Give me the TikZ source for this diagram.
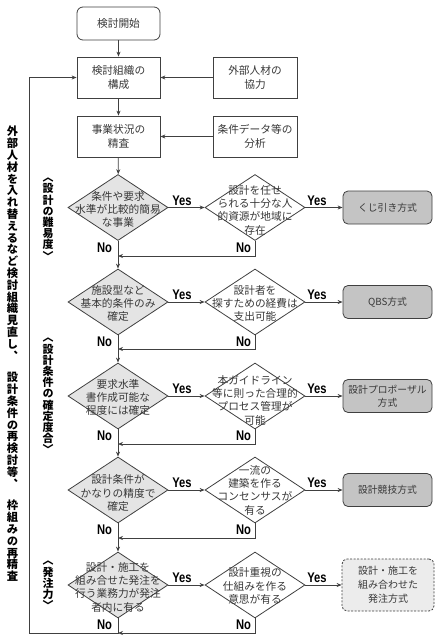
\documentclass[tikz,border=0pt]{standalone}
\usepackage{fontspec}
\setmainfont{Noto Sans CJK JP}
\newfontfamily\vjp[RawFeature=+vert]{Noto Sans CJK JP}
\newfontfamily\ynfont[FakeStretch=0.8]{Liberation Sans}
\usetikzlibrary{shapes.geometric,arrows.meta}
\definecolor{ln}{HTML}{404040}
\definecolor{tx}{HTML}{383838}
\definecolor{dfill}{HTML}{E4E4E4}
\definecolor{rfill}{HTML}{C4C4C4}
\definecolor{efill}{HTML}{ECECEC}
\begin{document}
\begin{tikzpicture}[x=1pt,y=-1pt,
  line/.style={draw=ln,line width=0.8pt},
  arr/.style={line,-{Stealth[length=5pt,width=4pt]}},
  box/.style={draw=ln,line width=0.8pt,fill=white,minimum width=83pt,minimum height=41pt,inner sep=0pt,align=center,text=tx,font=\fontsize{10.7}{13.5}\selectfont},
  startbox/.style={box,rounded corners=6pt,minimum height=33pt},
  dia/.style={diamond,draw=ln,line width=0.8pt,fill=white,minimum width=100pt,minimum height=66pt,inner sep=0pt},
  diag/.style={dia,fill=dfill},
  dtext/.style={align=center,text=tx,font=\fontsize{10.7}{13.3}\selectfont,inner sep=0pt},
  res/.style={draw=ln,line width=0.8pt,fill=rfill,rounded corners=5pt,minimum width=89pt,minimum height=33pt,inner sep=0pt,align=center,text=tx,font=\fontsize{9.8}{13}\selectfont},
  resd/.style={res,fill=efill,dash pattern=on 2pt off 1.5pt,minimum width=92pt,minimum height=52pt,font=\fontsize{10}{14}\selectfont},
  yn/.style={font=\ynfont\bfseries\fontsize{14}{14}\selectfont,text=black,inner sep=0pt},
  vtext/.style={align=center,font=\vjp\bfseries\fontsize{11.3}{11.8}\selectfont,inner sep=0pt,text=black},
  vlab/.style={align=center,font=\vjp\bfseries\fontsize{11}{11.2}\selectfont,inner sep=0pt,text=black},
]
\fill[white] (0,0) rectangle (441,640);
\useasboundingbox (0,0) rectangle (441,640);

% top boxes
\node[startbox] (start) at (118.5,23.5) {検討開始};
\node[box] (org) at (118.5,77.5) {検討組織の\\構成};
\node[box,minimum width=84pt] (ext) at (255,77.5) {外部人材の\\協力};
\node[box] (sit) at (118.5,136.5) {事業状況の\\精査};
\node[box,minimum width=84pt] (data) at (255,136.5) {条件データ等の\\分析};

% row 1
\node[diag] (d1) at (118,207.5) {};
\node[dtext] (t1) at (118,209.5) {条件や要求\\水準が比較的簡易\\な事業};
\node[dia] (d2) at (255,207.5) {};
\node[dtext] (t2) at (255,210) {設計を任せ\\られる十分な人\\的資源が地域に\\存在};
\node[res] (r1) at (387.5,207.5) {くじ引き方式};

% row 2
\node[diag] (d3) at (118,302) {};
\node[dtext] (t3) at (118,303.5) {施設型など\\基本的条件のみ\\確定};
\node[dia] (d4) at (255,302) {};
\node[dtext] (t4) at (255,303.5) {設計者を\\探すための経費は\\支出可能};
\node[res] (r2) at (387.5,302) {QBS方式};

% row 3
\node[diag] (d5) at (118,396) {};
\node[dtext] (t5) at (118,397.5) {要求水準\\書作成可能な\\程度には確定};
\node[dia] (d6) at (255,396) {};
\node[dtext] (t6) at (255,400) {本ガイドライン\\等に則った合理的\\プロセス管理が\\可能};
\node[res] (r3) at (387.5,396) {設計プロポーザル\\方式};

% row 4
\node[diag] (d7) at (118,490) {};
\node[dtext] (t7) at (118,493) {設計条件が\\かなりの精度で\\確定};
\node[dia] (d8) at (255,490) {};
\node[dtext] (t8) at (255,490) {一流の\\建築を作る\\コンセンサスが\\有る};
\node[res] (r4) at (387.5,490) {設計競技方式};

% row 5
\node[diag] (d9) at (118,585) {};
\node[dtext] (t9) at (118,587) {設計・施工を\\組み合せた発注を\\行う業務力が発注\\者内に有る};
\node[dia] (d10) at (255,585) {};
\node[dtext] (t10) at (255,586) {設計重視の\\仕組みを作る\\意思が有る};
\node[resd] (r5) at (388,585) {設計・施工を\\組み合わせた\\発注方式};

% connectors top
\draw[arr] (start) -- (org);
\draw[arr] (org) -- (sit);
\draw[arr] (ext) -- (org);
\draw[arr] (data) -- (sit);
\draw[arr] (sit) -- (d1);

% yes connectors
\draw[arr] (d1) -- (d2);
\draw[arr] (d2) -- (r1);
\draw[arr] (d3) -- (d4);
\draw[arr] (d4) -- (r2);
\draw[arr] (d5) -- (d6);
\draw[arr] (d6) -- (r3);
\draw[arr] (d7) -- (d8);
\draw[arr] (d8) -- (r4);
\draw[arr] (d9) -- (d10);
\draw[arr] (d10) -- (r5);

% no connectors
\draw[arr] (d1) -- (d3);
\draw[arr] (d3) -- (d5);
\draw[arr] (d5) -- (d7);
\draw[arr] (d7) -- (d9);
\coordinate (m1) at (118,256);
\coordinate (m2) at (118,349);
\coordinate (m3) at (118,444);
\coordinate (m4) at (118,538);
\coordinate (m5) at (118,633);
\coordinate (c1) at (29,633);
\draw[arr] (d2.south) |- (m1);
\draw[arr] (d4.south) |- (m2);
\draw[arr] (d6.south) |- (m3);
\draw[arr] (d8.south) |- (m4);
\draw[arr] (d10.south) |- (m5);
\draw[arr] (d9.south) |- (c1) |- (org.west);

% Yes / No labels
\foreach \n/\y in {1/200.5,2/295,3/389,4/483,5/578}{
  \node[yn] (ya\n) at (182,\y) {Yes};
  \node[yn] (yb\n) at (317,\y) {Yes};
}
\foreach \n/\y in {1/247.5,2/342,3/436,4/530,5/625}{
  \node[yn] (na\n) at (104.5,\y) {No};
  \node[yn] (nb\n) at (243.5,\y) {No};
}

% side texts
\node[vtext,anchor=north] (side) at (12.5,126) {外\\部\\人\\材\\を\\入\\れ\\替\\え\\る\\な\\ど\\検\\討\\組\\織\\見\\直\\し\\、\\[10pt]設\\計\\条\\件\\の\\再\\検\\討\\等\\、\\[10pt]枠\\組\\み\\の\\再\\精\\査};
\node[vlab] (lab1) at (48,219) {〈\\設\\計\\の\\難\\易\\度\\〉};
\node[vlab] (lab2) at (48,396) {〈\\設\\計\\条\\件\\の\\確\\定\\度\\合\\〉};
\node[vlab] (lab3) at (48,585.5) {〈\\発\\注\\力\\〉};
\end{tikzpicture}
\end{document}
